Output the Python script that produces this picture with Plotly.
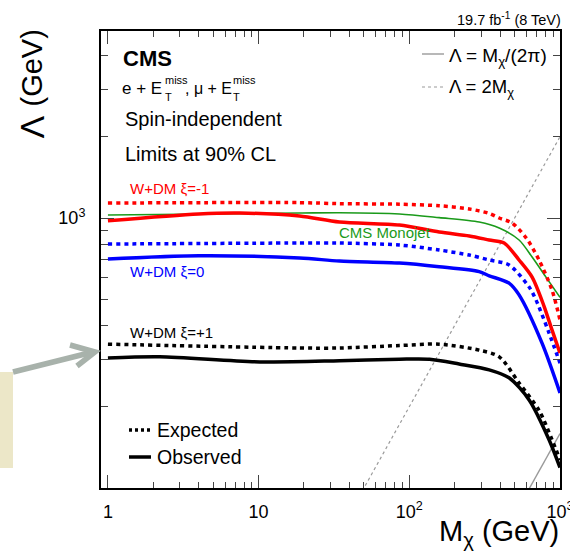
import plotly.graph_objects as go

# ---------------- data ----------------
m_red_exp = [1, 18.7, 34.4, 86, 158, 250, 339, 395, 481, 600, 726, 885, 1000]
lam_red_exp = [1136, 1140, 1130, 1125, 1110, 1080, 1040, 1000, 958, 840, 699, 541, 419]

m_red_obs = [1, 4, 7.5, 18.7, 34.4, 86, 158, 250, 339, 426, 535, 653, 783, 885, 1000]
lam_red_obs = [977, 1035, 1043, 1017, 966, 942, 887, 858, 829, 808, 699, 604, 472, 385, 316]

m_mono = [1, 18.7, 34.4, 86, 158, 291, 395, 535, 653, 807, 1000]
lam_mono = [1026, 1043, 1046, 1035, 1003, 966, 918, 829, 717, 604, 508]

m_blue_exp = [1, 18.7, 34.4, 86, 158, 250, 339, 459, 624, 693, 846, 1000]
lam_blue_exp = [801, 808, 808, 794, 761, 729, 699, 670, 555, 497, 375, 290]

m_blue_obs = [1, 4, 18.7, 34.4, 86, 158, 291, 339, 459, 535, 760, 1000]
lam_blue_obs = [705, 725, 711, 693, 681, 660, 633, 611, 574, 519, 344, 225]

m_black_exp = [1, 18.7, 34.4, 86, 158, 291, 395, 535, 726, 885, 1000]
lam_black_exp = [341, 330, 330, 337, 341, 324, 306, 245, 194, 151, 127]

m_black_obs = [1, 2.2, 10.2, 34.4, 86, 136, 214, 339, 459, 624, 846, 1000]
lam_black_obs = [303, 306, 293, 296, 300, 300, 288, 274, 256, 212, 151, 119]

m_theory = [1, 1000]
lam_2m = [2, 2000]
lam_2pi = [0.159, 159.2]

x_major = [1, 10, 100, 1000]
x_major_text = ["1", "10", "10<sup>2</sup>", "10<sup>3</sup>"]
x_minor = [v * k for v in [1, 10, 100] for k in range(2, 10)]
y_major = [100, 1000]
y_major_text = ["", "10<sup>3</sup>"]
y_minor = [200, 300, 400, 500, 600, 700, 800, 900, 2000, 3000, 4000]

# ---------------- geometry helpers (pixel -> paper) ----------------
L, R, T, B = 101, 560, 31, 488
def PX(x):
    return (x - L) / (R - L)
def PY(y):
    return (B - y) / (B - T)

FONT = "Liberation Sans, Arial, Helvetica, sans-serif"
DOT = "4px,4px"

fig = go.Figure()

def add(x, y, color, width, dash="solid", smooth=0.8):
    fig.add_trace(go.Scatter(
        x=x, y=y, mode="lines",
        line=dict(color=color, width=width, dash=dash, shape="spline", smoothing=smooth),
        showlegend=False, hoverinfo="skip"))

# theory lines
fig.add_trace(go.Scatter(x=m_theory, y=lam_2m, mode="lines",
                         line=dict(color="#9a9a9a", width=1.2, dash="3px,3px"),
                         showlegend=False, hoverinfo="skip"))
fig.add_trace(go.Scatter(x=m_theory, y=lam_2pi, mode="lines",
                         line=dict(color="#9a9a9a", width=1.4),
                         showlegend=False, hoverinfo="skip"))

add(m_mono, lam_mono, "#1a9a1a", 1.6)
add(m_red_exp, lam_red_exp, "#ff0000", 3.5, DOT)
add(m_red_obs, lam_red_obs, "#ff0000", 3.5)
add(m_blue_exp, lam_blue_exp, "#0000ff", 3.5, DOT)
add(m_blue_obs, lam_blue_obs, "#0000ff", 3.5)
add(m_black_exp, lam_black_exp, "#000000", 3.5, DOT)
add(m_black_obs, lam_black_obs, "#000000", 3.5)

fig.update_layout(
    width=570, height=551, autosize=False,
    margin=dict(l=L, r=570 - R, t=T, b=551 - B, pad=0, autoexpand=False),
    paper_bgcolor="white", plot_bgcolor="white",
    font=dict(family=FONT, color="black"),
    xaxis=dict(type="log", range=[-0.046, 3.0], showgrid=False, zeroline=False,
               automargin=False,
               showline=True, linecolor="black", linewidth=2, mirror="ticks",
               ticks="inside", ticklen=13, tickwidth=1.3, tickcolor="#444",
               tickvals=x_major, ticktext=x_major_text, ticklabeloverflow="allow",
               tickfont=dict(size=18, family=FONT), ticklabelstandoff=6,
               minor=dict(tickvals=x_minor, ticks="inside", ticklen=6,
                          tickwidth=1.3, tickcolor="#444", showgrid=False)),
    yaxis=dict(type="log", range=[2.0, 3.6926], showgrid=False, zeroline=False,
               automargin=False,
               showline=True, linecolor="black", linewidth=2, mirror="ticks",
               ticks="inside", ticklen=13, tickwidth=1.3, tickcolor="#444",
               tickvals=y_major, ticktext=y_major_text, ticklabeloverflow="allow",
               tickfont=dict(size=18, family=FONT), ticklabelstandoff=10,
               minor=dict(tickvals=y_minor, ticks="inside", ticklen=7,
                          tickwidth=1.3, tickcolor="#444", showgrid=False)),
)

ann = []
def txt(x, y, s, size, color="black", xanchor="left", bold=False, angle=0, yanchor="middle"):
    if bold:
        s = "<b>" + s + "</b>"
    ann.append(dict(x=PX(x), y=PY(y), xref="paper", yref="paper", text=s,
                    showarrow=False, xanchor=xanchor, yanchor=yanchor, textangle=angle,
                    font=dict(size=size, color=color, family=FONT)))

txt(121, 58, "CMS", 22, bold=True)
txt(120, 89, "e + E", 17)
txt(163, 80, "miss", 11)
txt(163, 97, "T", 11)
txt(183, 89, ", μ + E", 16)
txt(231, 80, "miss", 11)
txt(231, 97, "T", 11)
txt(123, 119, "Spin-independent", 20)
txt(123, 154, "Limits at 90% CL", 20)
txt(128, 188, "W+DM ξ=-1", 15, "#ff0000")
txt(128, 271, "W+DM ξ=0", 15, "#0000ff")
txt(128, 332, "W+DM ξ=+1", 15)
txt(337, 232, "CMS Monojet", 15, "#1a9a1a")
txt(155, 430, "Expected", 19.5)
txt(155, 457, "Observed", 19.5)
txt(447, 57, "Λ = M<sub>χ</sub>/(2π)", 19)
txt(447, 88, "Λ = 2M<sub>χ</sub>", 18.5)
txt(563, 19, "19.7 fb<sup>-1</sup> (8 TeV)", 14.5, xanchor="right")
# rotated y-axis title: "(GeV)" and a wide Λ
ann.append(dict(x=PX(31), y=PY(28), xref="paper", yref="paper", text="(GeV)",
                showarrow=False, xanchor="center", yanchor="top", textangle=-90,
                font=dict(size=29, family=FONT, color="black")))
ann.append(dict(x=PX(31), y=PY(141), xref="paper", yref="paper", text="Λ",
                showarrow=False, xanchor="center", yanchor="bottom", textangle=-90,
                font=dict(size=34, family=FONT, color="black")))
txt(561, 533, "M<sub>χ</sub> (GeV)", 29, xanchor="right")
fig.update_layout(annotations=ann)

shapes = []
def seg(x0, y0, x1, y1, color, width, dash="solid"):
    shapes.append(dict(type="line", xref="paper", yref="paper",
                       x0=PX(x0), y0=PY(y0), x1=PX(x1), y1=PY(y1),
                       line=dict(color=color, width=width, dash=dash)))

# legend samples
seg(129, 430, 151, 430, "black", 3.5, "3px,3px")
seg(129, 457, 151, 457, "black", 3.5)
seg(422, 54, 444, 54, "#9a9a9a", 1.4)
seg(422, 87, 444, 87, "#9a9a9a", 1.2, "3px,3px")

# slide decorations (beige box and arrow)
shapes.append(dict(type="rect", xref="paper", yref="paper",
                   x0=PX(-5), x1=PX(13), y0=PY(468), y1=PY(372),
                   fillcolor="#ece7c8", line=dict(width=0), layer="below"))
seg(13, 372, 93, 352, "#a8b2ab", 5.5)
shapes.append(dict(type="path", xref="paper", yref="paper",
                   path="M {},{} L {},{} L {},{}".format(PX(70), PY(345), PX(95), PY(352), PX(77), PY(366)),
                   line=dict(color="#a8b2ab", width=5.5)))
fig.update_layout(shapes=shapes)

fig.write_html("out.html")
